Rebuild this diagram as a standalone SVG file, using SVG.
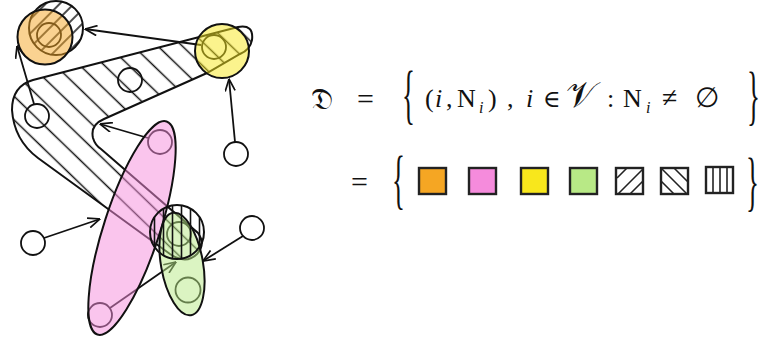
<svg xmlns="http://www.w3.org/2000/svg" width="765" height="343" viewBox="0 0 765 343">
<defs>
  <pattern id="hBack" patternUnits="userSpaceOnUse" width="17" height="17" patternTransform="rotate(-46)">
    <line x1="8.5" y1="-1" x2="8.5" y2="18" stroke="#111" stroke-width="1.5"/>
  </pattern>
  <pattern id="hFwd" patternUnits="userSpaceOnUse" width="10" height="10" patternTransform="rotate(45)">
    <line x1="5" y1="-1" x2="5" y2="11" stroke="#111" stroke-width="1.5"/>
  </pattern>
  <pattern id="hVert" patternUnits="userSpaceOnUse" width="9" height="9" patternTransform="translate(6,0)">
    <line x1="4.5" y1="-1" x2="4.5" y2="10" stroke="#111" stroke-width="1.6"/>
  </pattern>
  <marker id="arr" viewBox="0 0 13 11" refX="12.5" refY="5.5" markerWidth="13" markerHeight="11" markerUnits="userSpaceOnUse" orient="auto">
    <path d="M0.5,0.5 L12.5,5.5 L0.5,10.5" fill="none" stroke="#111" stroke-width="1.7"/>
  </marker>
</defs>
<style>
  .node{fill:none;stroke:#111;stroke-width:1.8}
  .edge{fill:none;stroke:#111;stroke-width:1.8;marker-end:url(#arr)}
  .hood{stroke:#111;stroke-width:2}
  .soft{fill-opacity:0.5}
  .t{font-family:"Liberation Serif","DejaVu Serif",serif;font-size:26px;fill:#111}
  .m{font-family:"DejaVu Serif","DejaVu Sans",serif}
  .it{font-style:italic}
  .sub{font-size:16px}
  .br{font-size:36px}
  .sq{stroke:#222;stroke-width:2.4}
  .hl{stroke:#222;stroke-width:1.6}
</style>

<!-- hatched neighbourhood sets (drawn first) -->
<g id="set-band">
  <path class="hood" fill="url(#hBack)" d="M33,80 L238,27 Q254,24 252,40 Q250,50 240,54 L207,73 L104,119 Q90,125 93,138 Q95,145 101,149 L198,233 Q206,244 197,254 Q186,265 170,254 L38,158 Q14,140 12,110 Q12,86 33,80 Z"/>
</g>
<g id="set-fwd">
  <circle class="hood" cx="56" cy="28" r="27" fill="url(#hFwd)"/>
</g>

<!-- connectors -->
<g id="connectors">
  <line class="edge" x1="201" y1="45" x2="85" y2="29"/>
  <line class="edge" x1="34" y1="104" x2="17" y2="46"/>
  <line class="edge" x1="235" y1="142" x2="229" y2="79"/>
  <line class="edge" x1="148" y1="138" x2="100" y2="124"/>
  <line class="edge" x1="44" y1="238" x2="100" y2="219"/>
  <line class="edge" x1="243" y1="236" x2="203" y2="261"/>
  <line class="edge" x1="110" y1="308" x2="176" y2="262"/>
</g>

<!-- nodes -->
<g id="node-orange"><circle class="node" cx="49" cy="35" r="12"/></g>
<g id="node-yellow"><circle class="node" cx="214" cy="47" r="12"/></g>
<g id="node-band-mid"><circle class="node" cx="130" cy="80" r="12"/></g>
<g id="node-band-left"><circle class="node" cx="37" cy="116" r="12"/></g>
<g id="node-right-top"><circle class="node" cx="236" cy="154" r="12"/></g>
<g id="node-pink-top"><circle class="node" cx="160" cy="142" r="12"/></g>
<g id="node-left-bottom"><circle class="node" cx="33" cy="243" r="12"/></g>
<g id="node-right-bottom"><circle class="node" cx="252" cy="228" r="12"/></g>
<g id="node-green-top"><circle class="node" cx="179" cy="234" r="12"/></g>
<g id="node-green-bottom"><circle class="node" cx="188" cy="290" r="12.5"/></g>
<g id="node-pink-bottom"><circle class="node" cx="100" cy="315" r="12"/></g>

<!-- coloured neighbourhood sets -->
<g id="set-orange"><circle class="hood soft" cx="45" cy="37" r="27.5" fill="#F5A623"/></g>
<g id="set-yellow"><circle class="hood soft" cx="222" cy="51" r="27" fill="#F8E71C"/></g>
<g id="set-pink"><ellipse class="hood soft" cx="132" cy="228" rx="28" ry="112" transform="rotate(18 132 228)" fill="#F58BDC"/></g>
<g id="set-green"><ellipse class="hood soft" cx="182" cy="264" rx="21" ry="52" transform="rotate(-10 182 264)" fill="#B8E986"/></g>
<g id="set-vert"><circle class="hood" cx="177" cy="232" r="27" fill="url(#hVert)"/></g>

<!-- formula -->
<g id="formula">
  <text class="t m" x="311" y="109" style="font-size:30px">𝔇</text>
  <text class="t" x="357" y="109" style="font-size:30px">=</text>
  <text class="t br" transform="translate(402,116) scale(0.75,1.8)">{</text>
  <text class="t" x="425" y="107">(</text>
  <text class="t it" x="435" y="107">i</text>
  <text class="t" x="446" y="107">,</text>
  <text class="t" x="457" y="107">N</text>
  <text class="t it sub" x="479" y="113">i</text>
  <text class="t" x="488" y="107">)</text>
  <text class="t" x="507" y="107">,</text>
  <text class="t it" x="526" y="107">i</text>
  <text class="t" x="543" y="107" style="font-size:24px">∈</text>
  <text class="t m" x="566" y="107" style="font-size:36px">𝒱</text>
  <text class="t" x="607" y="107">:</text>
  <text class="t" x="623" y="107">N</text>
  <text class="t it sub" x="646" y="113">i</text>
  <text class="t" x="662" y="107" style="font-size:28px">≠</text>
  <text class="t" x="695" y="107" style="font-size:28px">∅</text>
  <text class="t br" transform="translate(747,117) scale(0.75,1.8)">}</text>

  <text class="t" x="351" y="192" style="font-size:30px">=</text>
  <text class="t br" transform="translate(392,201) scale(0.75,1.8)">{</text>
  <text class="t br" transform="translate(746,203) scale(0.75,1.8)">}</text>
</g>

<!-- legend squares -->
<g id="legend">
  <rect class="sq" x="419" y="168" width="27" height="26" fill="#F5A623"/>
  <rect class="sq" x="469" y="168" width="27" height="26" fill="#F58BDC"/>
  <rect class="sq" x="521" y="168" width="27" height="26" fill="#F8E71C"/>
  <rect class="sq" x="570" y="168" width="27" height="26" fill="#B8E986"/>
  <rect class="sq" x="616" y="168" width="27" height="26" fill="#fff"/>
  <line class="hl" x1="617" y1="178" x2="627" y2="168"/>
  <line class="hl" x1="618" y1="194" x2="643" y2="169"/>
  <line class="hl" x1="630" y1="194" x2="643" y2="181"/>
  <rect class="sq" x="661" y="168" width="27" height="26" fill="#fff"/>
  <line class="hl" x1="662" y1="169" x2="687" y2="194"/>
  <line class="hl" x1="674" y1="168" x2="688" y2="182"/>
  <line class="hl" x1="661" y1="181" x2="674" y2="194"/>
  <rect class="sq" x="706" y="167" width="27" height="26" fill="#fff"/>
  <line class="hl" x1="713" y1="167" x2="713" y2="193"/>
  <line class="hl" x1="720" y1="167" x2="720" y2="193"/>
  <line class="hl" x1="727" y1="167" x2="727" y2="193"/>
</g>
</svg>
